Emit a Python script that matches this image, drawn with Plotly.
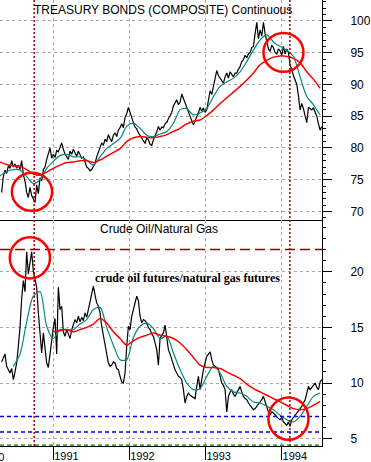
import pandas as pd
import plotly.graph_objects as go
from plotly.subplots import make_subplots

# ---------------- data ----------------
SAMPLE_START = "1990-04-29"   # first close sample
SAMPLE_STEP = "8D"            # sampling step used while reading the closes
MA_START = "1990-04-21"       # moving averages read on a coarser grid
MA_STEP = "32D"

bond_close = [
    73.0, 75.5, 76.5, 76.0, 77.2, 76.8, 78.0, 77.0, 77.5, 76.8,
    77.3, 76.6, 78.0, 75.8, 74.8, 73.0, 72.2, 73.8, 72.5, 71.8,
    71.4, 74.2, 72.8, 75.3, 74.8, 76.6, 77.0, 78.2, 79.0, 80.0,
    78.4, 79.0, 78.5, 79.6, 79.4, 80.2, 80.8, 79.8, 79.0, 78.6,
    78.2, 79.5, 79.0, 79.8, 79.1, 78.7, 79.5, 78.8, 78.4, 78.6,
    77.6, 77.0, 76.8, 76.4, 76.6, 77.0, 77.6, 78.6, 79.4, 80.2,
    80.8, 80.4, 81.4, 81.0, 82.1, 81.5, 81.0, 82.0, 82.4, 81.8,
    82.8, 83.2, 83.8, 83.2, 84.8, 85.4, 86.4, 85.6, 84.6, 84.0,
    83.3, 83.0, 82.4, 82.0, 81.6, 81.2, 80.7, 81.6, 81.3, 80.6,
    80.4, 81.3, 81.8, 82.5, 83.4, 82.8,
    83.3, 83.2, 83.8, 84.0, 84.6, 85.0, 85.6, 86.6, 87.0, 87.6,
    86.8, 87.2, 88.5, 87.8, 87.0, 86.2, 85.5, 85.0, 84.4, 83.6,
    84.3, 84.8, 85.5, 86.4, 85.8, 86.3, 85.6, 86.0, 87.4, 89.0,
    88.4, 89.6, 90.8, 92.2, 91.4, 91.0, 90.6, 90.2, 91.2, 91.8,
    91.0, 92.0, 91.6, 91.2, 91.8, 91.8, 92.4, 92.8, 93.6, 93.9,
    94.6, 94.2, 94.8, 95.0, 95.8, 96.0, 98.0, 99.8, 97.2, 98.6,
    97.6, 99.8, 98.0, 96.6, 95.6, 95.2, 96.2, 95.8, 95.0, 94.8,
    95.6, 95.3, 94.6, 96.0, 94.8, 95.6, 95.0, 93.0, 92.4, 91.4,
    90.6, 90.0, 88.2, 86.0, 87.0, 86.2, 85.0, 84.0, 86.4, 86.2,
    86.0, 86.3, 85.6, 85.0, 83.8, 82.8, 83.4,
]
bond_ma_fast = [
    75.6, 76.3, 76.6, 76.5, 75.5, 74.4, 75.0, 76.8, 77.9, 78.8,
    79.0, 78.6, 78.6, 78.1, 77.3, 78.6, 79.9, 80.7, 81.5, 83.4,
    83.9, 83.1, 82.0, 81.8, 82.2,
    82.6, 83.9, 86.0, 86.2, 85.2, 85.5, 86.2, 88.1, 89.7, 90.4,
    91.0, 92.0, 93.6, 95.4, 97.0, 97.8, 96.7, 96.0, 95.4, 94.4,
    91.2, 88.1, 86.8, 85.2,
]
bond_ma_slow = [
    77.8, 77.4, 77.2, 77.1, 76.6, 75.9, 75.7, 76.2, 76.8, 77.3,
    77.7, 77.8, 78.0, 78.0, 77.7, 78.1, 78.7, 79.3, 79.9, 81.0,
    81.6, 81.8, 81.7, 81.6, 81.8,
    82.1, 82.6, 83.1, 83.8, 84.2, 84.4, 85.1, 86.0, 87.0, 87.9,
    88.8, 89.7, 90.7, 91.8, 93.1, 93.8, 94.3, 94.5, 94.4, 94.1,
    93.4, 92.0, 90.8, 89.4,
]

ratio_close = [
    11.9, 12.3, 12.6, 11.5, 11.2, 10.9, 11.3, 10.3, 11.0, 11.8,
    13.3, 15.0, 17.6, 19.2, 18.2, 21.8, 19.8, 20.8, 21.8, 20.0,
    19.4, 18.6, 16.3, 14.2, 12.7, 14.5, 13.0, 11.8, 11.4, 12.4,
    13.8, 15.0, 15.8, 12.6, 18.6, 16.6, 16.9, 14.6, 14.2, 14.8,
    14.4, 14.0, 14.8, 15.3, 15.7, 15.4, 16.0, 15.5, 15.9, 15.6,
    16.3, 15.9, 16.6, 17.2, 18.1, 18.7, 17.9, 17.2, 16.9, 16.3,
    15.1, 14.2, 13.3, 12.7, 11.8, 11.5, 11.6, 11.9, 11.8, 11.3,
    11.2, 10.6, 10.1, 10.0, 10.9, 13.3, 15.1, 14.8, 16.0, 16.6,
    17.2, 17.8, 17.4, 16.0, 15.4, 15.7, 15.6, 15.4, 15.0, 14.8,
    14.4, 14.2, 13.6, 13.0, 11.6, 14.0,
    14.3, 14.5, 15.2, 14.2, 13.0, 12.6, 12.1, 11.7, 11.2, 10.9,
    10.6, 10.5, 10.3, 9.4, 8.2, 8.8, 9.1, 8.9, 8.8, 8.7,
    8.6, 9.7, 10.6, 9.4, 10.4, 11.2, 11.8, 12.4, 12.6, 12.8,
    12.1, 11.6, 11.5, 11.4, 11.2, 10.6, 10.0, 9.8, 9.4, 7.4,
    8.8, 9.2, 9.4, 9.0, 8.8, 9.1, 9.4, 9.7, 9.2, 8.8,
    8.6, 8.5, 8.2, 8.0, 7.8, 7.6, 7.7, 7.9, 8.0, 8.2,
    8.5, 8.8, 8.3, 7.9, 7.4, 7.1, 7.4, 7.3, 7.1, 7.0,
    6.8, 6.7, 6.9, 6.5, 6.3, 6.2, 6.5, 6.1, 6.7, 6.9,
    7.0, 7.2, 7.4, 7.6, 7.9, 8.2, 8.5, 9.1, 9.7, 9.4,
    9.6, 9.9, 10.0, 9.6, 9.4, 10.1, 10.3,
]
ratio_ma_fast = [
    None, None, 11.5, 12.6, 15.5, 17.8, 18.2, 15.1, 14.0, 14.8,
    14.8, 14.8, 15.3, 15.7, 16.6, 16.8, 15.0, 13.4, 12.1, 12.1,
    14.1, 15.1, 15.4, 14.9, 14.0,
    14.2, 12.7, 11.2, 10.0, 9.4, 9.5, 10.6, 11.5, 10.9, 9.7,
    9.2, 9.1, 8.8, 8.3, 8.2, 7.9, 7.6, 7.1, 6.7, 6.5,
    7.0, 7.9, 8.8, 9.1,
]
ratio_ma_slow = [
    None, None, None, None, None, None, None, None, 14.6, 14.7,
    14.8, 14.6, 14.8, 15.0, 15.3, 15.8, 15.4, 14.6, 14.0, 13.4,
    13.8, 14.1, 14.3, 14.5, 14.3,
    14.2, 14.0, 13.6, 13.0, 12.3, 11.6, 11.4, 11.4, 11.3, 11.0,
    10.7, 10.4, 9.9, 9.5, 9.2, 8.9, 8.6, 8.3, 8.0, 7.7,
    7.6, 7.7, 8.0, 8.35,
]

x_range = ["1990-04-21", "1994-07-14"]
first_year_label = "1990"
signal_dates = ["1990-10-02", "1994-02-10"]
ratio_resistance = 22.0
ratio_supports = [7.0, 5.6]
ratio_floor = 4.42
bond_circles = [("1990-06-17", "1990-12-27", 70.1, 76.1),
                ("1993-10-06", "1994-04-16", 92.0, 98.1)]
ratio_circles = [("1990-06-07", "1990-12-17", 19.4, 23.1),
                 ("1993-10-30", "1994-05-10", 4.9, 8.7)]

close_dates = pd.date_range(SAMPLE_START, periods=len(bond_close), freq=SAMPLE_STEP)
ma_dates = pd.date_range(MA_START, periods=len(bond_ma_fast), freq=MA_STEP)

# ---------------- figure ----------------
BLACK = "#000000"
TEAL = "#00897e"
RED = "#ff0000"
DARKRED = "#990000"
GRID = "#aaaaaa"
FONT = "Liberation Sans, Arial, sans-serif"

fig = make_subplots(rows=2, cols=1, shared_xaxes=True, vertical_spacing=0,
                    row_heights=[220, 226])

fig.add_trace(go.Scatter(x=close_dates, y=bond_close, mode="lines",
                         line=dict(color=BLACK, width=1.2)), row=1, col=1)
fig.add_trace(go.Scatter(x=ma_dates, y=bond_ma_fast, mode="lines",
                         line=dict(color=TEAL, width=1.2, shape="spline", smoothing=0.8)),
              row=1, col=1)
fig.add_trace(go.Scatter(x=ma_dates, y=bond_ma_slow, mode="lines",
                         line=dict(color=RED, width=1.5, shape="spline", smoothing=0.8)),
              row=1, col=1)

fig.add_trace(go.Scatter(x=close_dates, y=ratio_close, mode="lines",
                         line=dict(color=BLACK, width=1.2)), row=2, col=1)
fig.add_trace(go.Scatter(x=ma_dates, y=ratio_ma_fast, mode="lines",
                         line=dict(color=TEAL, width=1.2, shape="spline", smoothing=0.8)),
              row=2, col=1)
fig.add_trace(go.Scatter(x=ma_dates, y=ratio_ma_slow, mode="lines",
                         line=dict(color=RED, width=1.5, shape="spline", smoothing=0.8)),
              row=2, col=1)

xcommon = dict(type="date", range=x_range, tick0="1990-01-01", dtick="M12",
               showgrid=True, gridcolor=GRID, griddash="3px,3px", gridwidth=1,
               zeroline=False, showline=True, linecolor=BLACK, linewidth=1,
               automargin=False)
fig.update_xaxes(**xcommon, ticks="", showticklabels=False, row=1, col=1)
fig.update_xaxes(**xcommon, ticks="outside", ticklen=13, tickcolor=BLACK, tickwidth=1,
                 showticklabels=True, tickformat="%Y", ticklabelposition="outside right",
                 tickfont=dict(family=FONT, size=11, color=BLACK), row=2, col=1)

ycommon = dict(side="right", tick0=0, dtick=5, ticks="outside", ticklen=9,
               tickcolor=BLACK, tickwidth=1, showline=True, linecolor=BLACK, linewidth=1,
               showgrid=True, gridcolor=GRID, griddash="3px,3px", gridwidth=1,
               zeroline=False, automargin=False, ticklabelstandoff=16,
               tickfont=dict(family=FONT, size=12, color=BLACK),
               minor=dict(dtick=1, ticks="outside", ticklen=3, tickcolor=BLACK, showgrid=False))
fig.update_yaxes(**ycommon, range=[68.66, 103.3], row=1, col=1)
fig.update_yaxes(**ycommon, range=[4.34, 24.65], row=2, col=1)

# reference lines
for d in signal_dates:
    fig.add_shape(type="line", xref="x", yref="paper", x0=d, x1=d, y0=0, y1=1,
                  line=dict(color=DARKRED, width=1.5, dash="2px,2px"))
fig.add_shape(type="line", xref="x2 domain", yref="y2", x0=0, x1=1,
              y0=ratio_resistance, y1=ratio_resistance,
              line=dict(color=DARKRED, width=1.5, dash="10px,5px"))
for v in ratio_supports:
    fig.add_shape(type="line", xref="x2 domain", yref="y2", x0=0, x1=1, y0=v, y1=v,
                  line=dict(color="#0000ff", width=1.5, dash="4px,3px"))
fig.add_shape(type="line", xref="x2 domain", yref="y2", x0=0, x1=1,
              y0=ratio_floor, y1=ratio_floor,
              line=dict(color="#008000", width=1.2, dash="4px,3px"))

for x0, x1, y0, y1 in bond_circles:
    fig.add_shape(type="circle", xref="x", yref="y", x0=x0, x1=x1, y0=y0, y1=y1,
                  line=dict(color=RED, width=2.5))
for x0, x1, y0, y1 in ratio_circles:
    fig.add_shape(type="circle", xref="x2", yref="y2", x0=x0, x1=x1, y0=y0, y1=y1,
                  line=dict(color=RED, width=2.5))

# texts
fig.add_annotation(text="TREASURY BONDS (COMPOSITE) Continuous", xref="paper", yref="paper",
                   x=0.099, y=0.978, xanchor="left", yanchor="middle", showarrow=False,
                   font=dict(family=FONT, size=12, color=BLACK))
fig.add_annotation(text="Crude Oil/Natural Gas", xref="paper", yref="paper",
                   x=0.494, y=0.4865, xanchor="center", yanchor="middle", showarrow=False,
                   font=dict(family=FONT, size=12, color=BLACK))
fig.add_annotation(text="<b>crude oil futures/natural gas futures</b>", xref="paper", yref="paper",
                   x=0.581, y=0.3767, xanchor="center", yanchor="middle", showarrow=False,
                   font=dict(family="Liberation Serif, Times New Roman, serif", size=12, color=BLACK))
fig.add_annotation(text=first_year_label, xref="paper", yref="paper", x=0, y=0,
                   xanchor="right", yanchor="top", xshift=6, yshift=-3, showarrow=False,
                   font=dict(family=FONT, size=11, color=BLACK))

fig.update_layout(width=371, height=462, margin=dict(l=0, r=49, t=0, b=16),
                  paper_bgcolor="white", plot_bgcolor="white", showlegend=False)

fig.write_html("out.html", config={"displayModeBar": False},
               post_script="document.body.style.margin='0';")
